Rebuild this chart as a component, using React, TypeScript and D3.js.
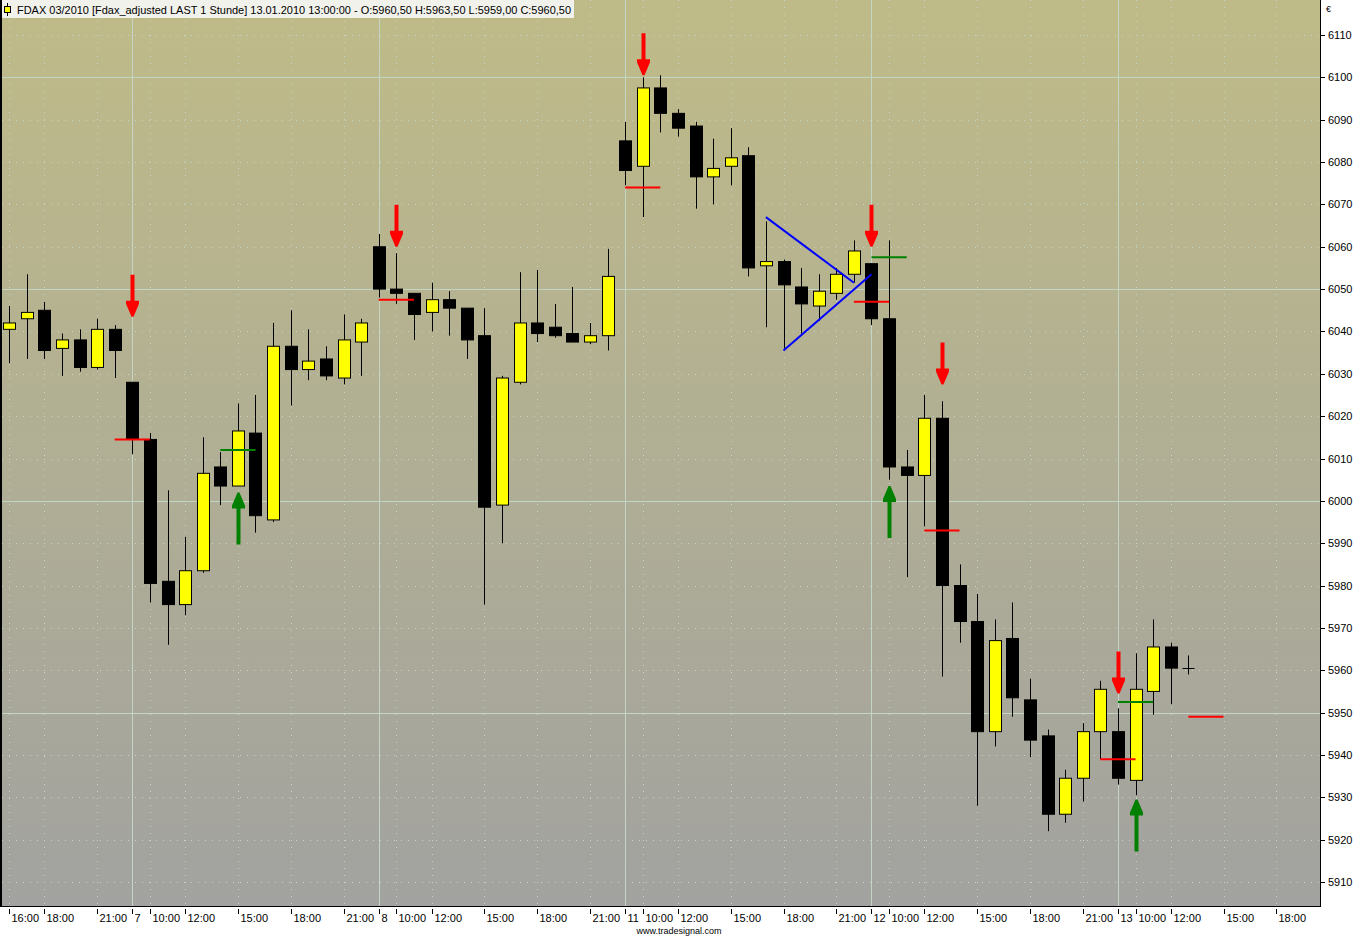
import React from "react";
import * as d3 from "d3";

// ---------- DATA ----------
const opens = [6040.5,6043,6045,6036,6038,6031.5,6040.5,6028,6014.5,5981,5975.5,5983.5,6008,6003.5,6016,5995.5,6036.5,6031,6033.5,6029,6037.5,6060,6050,6049,6044.5,6047.5,6045.5,6039,5999,6028,6042,6041,6039.5,6037.5,6039,6085,6079,6097.5,6091.5,6088.5,6076.5,6079,6081.5,6055.5,6056.5,6050.5,6046,6049,6053.5,6056,6043,6008,6006,6019.5,5980,5971.5,5945.5,5967.5,5953,5944.5,5926,5934.5,5945.5,5945.5,5934,5955,5965.5,5960.5];
const highs = [6046,6053.5,6047,6039.5,6040.5,6043,6041.5,6028,6016,6002.5,5991.5,6015,6011.5,6023,6025,6042,6045,6040.5,6036.5,6044,6043,6063,6058.5,6049,6051.5,6049.5,6045.5,6045.5,6029.5,6054,6054.5,6046.5,6050.5,6042,6059.5,6089.5,6100,6100.5,6092.5,6089.5,6085.5,6088,6083.5,6066,6057,6055,6053.5,6055,6061.5,6056,6061.5,6012,6025,6023.5,5985,5978,5972,5976,5958,5946,5936.5,5947.5,5957.5,5951,5964,5972,5966.5,5963.5];
const lows = [6032.5,6033.5,6033.5,6029.5,6030.5,6031,6029,6011,5976,5966,5973,5983,5999,6003.5,5992.5,5995,6022.5,6028.5,6028.5,6027.5,6029.5,6048,6046.5,6038,6040,6039,6033.5,5975.5,5990,6027.5,6037.5,6038.5,6037.5,6037,6035.5,6074.5,6067,6087,6086,6069,6070,6074.5,6053,6041,6036,6039.5,6042.5,6047.5,6051.5,6041.5,6005,5982,5994,5958.5,5966.5,5928,5942,5949,5939.5,5922,5924,5929,5939,5933,5930.5,5949.5,5952,5959];
const closes = [6042,6044.5,6035.5,6038,6031.5,6040.5,6035.5,6014.5,5980.5,5975.5,5983.5,6006.5,6003.5,6016.5,5996.5,6036.5,6031,6033,6029.5,6038,6042,6050,6049,6044,6047.5,6045.5,6038,5998.5,6029,6042,6039.5,6039,6037.5,6039,6053,6078,6097.5,6091.5,6088,6076.5,6078.5,6081,6055,6056.5,6051,6046.5,6049.5,6053.5,6059,6043,6008,6006,6019.5,5980,5971.5,5945.5,5967,5953.5,5943.5,5926,5934.5,5945.5,5955.5,5934.5,5955.5,5965.5,5960.5,5960.5];

const tickIdx = [0,2,5,7,8,10,13,16,19,21,22,24,27,30,33,35,36,38,41,44,47,49,50,52,55,58,61,63,64,66,69,72];
const tickLbl = ["16:00","18:00","21:00","7","10:00","12:00","15:00","18:00","21:00","8","10:00","12:00","15:00","18:00","21:00","11","10:00","12:00","15:00","18:00","21:00","12","10:00","12:00","15:00","18:00","21:00","13","10:00","12:00","15:00","18:00"];
const dayIdx = [7,21,35,49,63];

const priceTicks = [6110,6100,6090,6080,6070,6060,6050,6040,6030,6020,6010,6000,5990,5980,5970,5960,5950,5940,5930,5920,5910];

const sellArrowIdx = [7,22,36,49,53,63];
const sellArrowTip = [6043.5,6060,6100.5,6060,6027.5,5954.5];
const buyArrowIdx = [13,50,64];
const buyArrowTip = [6002,6003.5,5929.5];
const redLevelIdx = [7,22,36,49,53,63,68];
const redLevelVal = [6014.5,6047.5,6074,6047,5993,5939,5949];
const greenLevelIdx = [13,50,64];
const greenLevelVal = [6012,6057.5,5952.5];
const triUpperIdx = [43,48];
const triUpperVal = [6067,6051.5];
const triLowerIdx = [44,49];
const triLowerVal = [6035.5,6053.5];

const title = "FDAX 03/2010 [Fdax_adjusted LAST 1 Stunde] 13.01.2010 13:00:00 - O:5960,50 H:5963,50 L:5959,00 C:5960,50";

// ---------- LAYOUT ----------
const W = 1362, H = 937;
const plotL = 2, plotR = 1320, plotT = 0, plotB = 906;
const FONT = "'Liberation Sans', Arial, sans-serif";

export default function App() {
  const x = d3.scaleLinear().domain([0, 67]).range([9.1, 9.1 + 67 * 17.6]);
  const y = d3.scaleLinear().domain([5910, 6110]).range([882, 35]);
  const bw = 12;
  const grid = "#c3d6c6";

  const downArrow = (cx: number, ty: number) =>
    `M${cx - 2},${ty - 42} L${cx + 2},${ty - 42} L${cx + 2},${ty - 16} L${cx + 6.5},${ty - 16} L${cx + 6.5},${ty - 13} L${cx + 1},${ty} L${cx - 1},${ty} L${cx - 6.5},${ty - 13} L${cx - 6.5},${ty - 16} L${cx - 2},${ty - 16} Z`;
  const upArrow = (cx: number, ty: number) =>
    `M${cx - 2},${ty + 52} L${cx + 2},${ty + 52} L${cx + 2},${ty + 16} L${cx + 6.5},${ty + 16} L${cx + 6.5},${ty + 13} L${cx + 1},${ty} L${cx - 1},${ty} L${cx - 6.5},${ty + 13} L${cx - 6.5},${ty + 16} L${cx - 2},${ty + 16} Z`;

  return (
    <svg width={W} height={H} style={{ position: "absolute", left: 0, top: 0, background: "#fff" }}>
      <defs>
        <linearGradient id="bg" x1="0" y1="0" x2="0" y2="1">
          <stop offset="0" stopColor="#bfbb88" />
          <stop offset="1" stopColor="#a2a2a0" />
        </linearGradient>
        <clipPath id="clip">
          <rect x={plotL} y={plotT} width={plotR - plotL} height={plotB - plotT} />
        </clipPath>
      </defs>
      <rect x={0} y={0} width={W} height={H} fill="#fff" />
      <rect x={plotL} y={plotT} width={plotR - plotL} height={plotB - plotT} fill="url(#bg)" />

      <g clipPath="url(#clip)">
        {/* horizontal grid */}
        {priceTicks.map((v) => (
          <line key={"hg" + v} x1={plotL} x2={plotR} y1={Math.round(y(v)) + 0.5} y2={Math.round(y(v)) + 0.5}
            stroke={grid} strokeWidth={1} strokeDasharray={v % 50 === 0 ? undefined : "1,6"} />
        ))}
        {/* vertical grid */}
        {tickIdx.map((ti, k) => {
          const isDay = dayIdx.includes(ti);
          const xx = Math.round(x(ti)) + 0.5;
          return (
            <line key={"vg" + k} x1={xx} x2={xx} y1={plotT} y2={plotB} stroke={grid} strokeWidth={1}
              strokeDasharray={isDay ? undefined : "1,6"} />
          );
        })}

        {/* candles */}
        {opens.map((o, i) => {
          const c = closes[i];
          const cx = Math.round(x(i)) + 0.5;
          const up = c >= o;
          const top = y(Math.max(o, c));
          const bot = y(Math.min(o, c));
          const flat = Math.abs(o - c) < 0.01;
          return (
            <g key={"c" + i}>
              <line x1={cx} x2={cx} y1={y(highs[i])} y2={y(lows[i])} stroke="#000" strokeWidth={1} />
              {flat ? (
                <line x1={cx - 6} x2={cx + 6} y1={Math.round(top) + 0.5} y2={Math.round(top) + 0.5} stroke="#000" strokeWidth={1} />
              ) : (
                <rect x={cx - bw / 2} y={top} width={bw} height={Math.max(1, bot - top)}
                  fill={up ? "#ffff00" : "#000"} stroke="#000" strokeWidth={1} />
              )}
            </g>
          );
        })}

        {/* triangle */}
        <line x1={x(triUpperIdx[0])} y1={y(triUpperVal[0])} x2={x(triUpperIdx[1])} y2={y(triUpperVal[1])} stroke="#0000ff" strokeWidth={2} />
        <line x1={x(triLowerIdx[0])} y1={y(triLowerVal[0])} x2={x(triLowerIdx[1])} y2={y(triLowerVal[1])} stroke="#0000ff" strokeWidth={2} />

        {/* level lines */}
        {redLevelIdx.map((ri, k) => (
          <line key={"rl" + k} x1={x(ri - 1)} x2={x(ri + 1)} y1={y(redLevelVal[k])} y2={y(redLevelVal[k])} stroke="#ff0000" strokeWidth={2} />
        ))}
        {greenLevelIdx.map((gi, k) => (
          <line key={"gl" + k} x1={x(gi - 1)} x2={x(gi + 1)} y1={y(greenLevelVal[k])} y2={y(greenLevelVal[k])} stroke="#008000" strokeWidth={2} />
        ))}

        {/* arrows */}
        {sellArrowIdx.map((si, k) => (
          <path key={"sa" + k} d={downArrow(Math.round(x(si)) + 0.5, y(sellArrowTip[k]))} fill="#ff0000" />
        ))}
        {buyArrowIdx.map((bi, k) => (
          <path key={"ba" + k} d={upArrow(Math.round(x(bi)) + 0.5, y(buyArrowTip[k]))} fill="#008000" />
        ))}
      </g>

      {/* borders */}
      <line x1={1} x2={1} y1={0} y2={plotB + 1} stroke="#000" strokeWidth={2} />
      <line x1={plotR + 0.5} x2={plotR + 0.5} y1={0} y2={plotB + 1} stroke="#000" strokeWidth={1} />
      <line x1={0} x2={plotR + 1} y1={plotB + 0.5} y2={plotB + 0.5} stroke="#000" strokeWidth={1} />

      {/* header */}
      <rect x={0} y={0} width={574} height={18} fill="#f2f2ec" />
      <line x1={1} x2={1} y1={0} y2={18} stroke="#000" strokeWidth={2} />
      <line x1={7.5} x2={7.5} y1={3} y2={16} stroke="#000" strokeWidth={1} />
      <rect x={4.5} y={6.5} width={6} height={6} fill="#ffff00" stroke="#000" strokeWidth={1} />
      <text x={17} y={13.5} fontFamily={FONT} fontSize={11} fill="#000" textLength={554} lengthAdjust="spacingAndGlyphs">{title}</text>

      {/* right axis */}
      <text x={1326} y={12} fontFamily={FONT} fontSize={9} fill="#000">€</text>
      {priceTicks.map((v) => (
        <g key={"yt" + v}>
          <line x1={plotR + 1} x2={plotR + 5} y1={Math.round(y(v)) + 0.5} y2={Math.round(y(v)) + 0.5} stroke="#000" strokeWidth={1} />
          <text x={1328} y={y(v) + 4} fontFamily={FONT} fontSize={11} fill="#000">{v}</text>
        </g>
      ))}

      {/* bottom axis */}
      {tickIdx.map((ti, k) => {
        const xx = Math.round(x(ti)) + 0.5;
        return (
          <g key={"xt" + k}>
            <line x1={xx} x2={xx} y1={909} y2={914} stroke="#000" strokeWidth={1} />
            <text x={xx + 2} y={922} fontFamily={FONT} fontSize={11} fill="#000">{tickLbl[k]}</text>
          </g>
        );
      })}
      <text x={679} y={934} textAnchor="middle" fontFamily={FONT} fontSize={9} fill="#000">www.tradesignal.com</text>
    </svg>
  );
}
